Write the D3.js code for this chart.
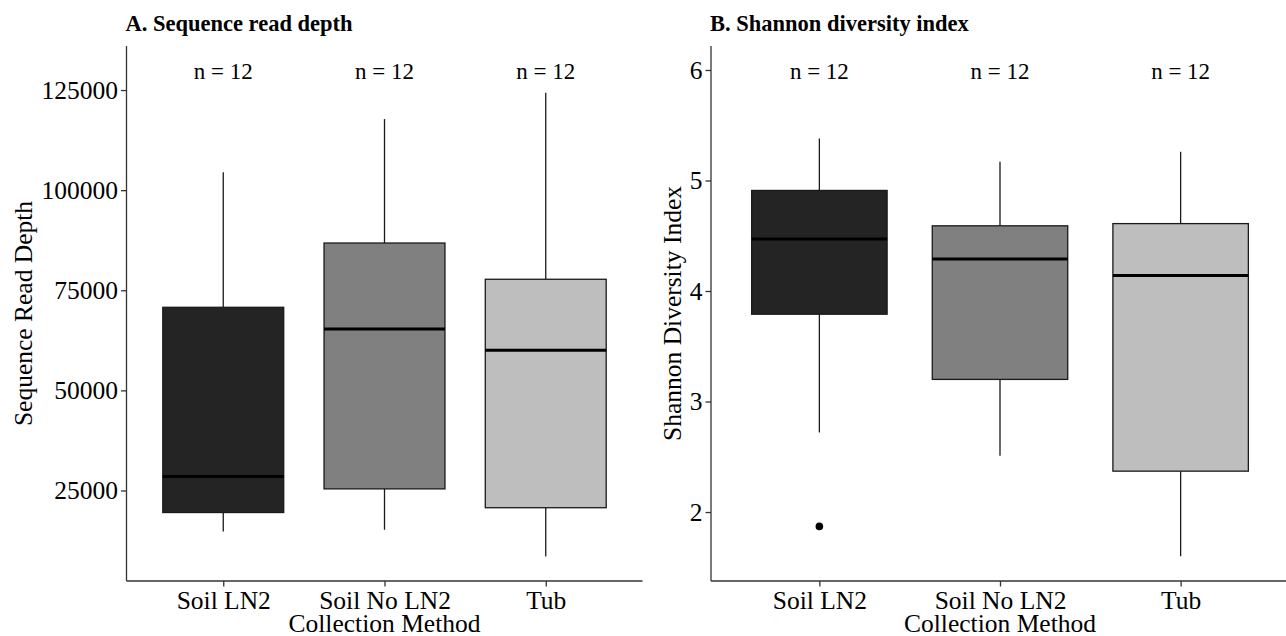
<!DOCTYPE html>
<html>
<head>
<meta charset="utf-8">
<script src="https://cdn.jsdelivr.net/npm/d3@7"></script>
<style>
  body { margin: 0; background: #fff; }
  text { font-family: "Liberation Serif", "Times New Roman", serif; fill: #000; }
</style>
</head>
<body>
<div id="chart"></div>
<script>
// categories and box statistics
const categories = ["Soil LN2", "Soil No LN2", "Tub"];
const sampleN = [12, 12, 12];
const fills = ["#242424", "#808080", "#bebebe"];

// panel A: sequence read depth
const depthLower  = [14750, 15200, 8500];
const depthQ1     = [19500, 25400, 20700];
const depthMedian = [28500, 65300, 60000];
const depthQ3     = [70750, 86800, 77750];
const depthUpper  = [104500, 117750, 124300];
const depthOutliers = [];
const depthTicks = [25000, 50000, 75000, 100000, 125000];

// panel B: shannon diversity index
const shannonLower  = [2.72, 2.51, 1.60];
const shannonQ1     = [3.79, 3.20, 2.37];
const shannonMedian = [4.47, 4.29, 4.14];
const shannonQ3     = [4.91, 4.59, 4.61];
const shannonUpper  = [5.38, 5.17, 5.26];
const shannonOutliers = [{cat: "Soil LN2", value: 1.87}];
const shannonTicks = [2, 3, 4, 5, 6];

const width = 1286, height = 636;
const svg = d3.select("#chart").append("svg")
    .attr("width", width)
    .attr("height", height);

const plotTop = 46, plotBottom = 581;

function drawPanel(opts) {
  const x = d3.scalePoint()
    .domain(categories)
    .range([opts.x0, opts.x1])
    .padding(0.6);
  const y = d3.scaleLinear()
    .domain(opts.domain)
    .range([plotBottom, plotTop]);
  const boxW = x.step() * 0.75;

  const g = svg.append("g");

  const boxes = categories.map((c, i) => ({
    cat: c, lo: opts.lower[i], q1: opts.q1[i], med: opts.median[i],
    q3: opts.q3[i], hi: opts.upper[i], fill: fills[i], n: sampleN[i]
  }));

  // whiskers
  g.selectAll(".whisk-hi").data(boxes).join("line")
    .attr("x1", d => x(d.cat)).attr("x2", d => x(d.cat))
    .attr("y1", d => y(d.q3)).attr("y2", d => y(d.hi))
    .attr("stroke", "#1a1a1a").attr("stroke-width", 1.3);
  g.selectAll(".whisk-lo").data(boxes).join("line")
    .attr("x1", d => x(d.cat)).attr("x2", d => x(d.cat))
    .attr("y1", d => y(d.q1)).attr("y2", d => y(d.lo))
    .attr("stroke", "#1a1a1a").attr("stroke-width", 1.3);

  // boxes
  g.selectAll(".box").data(boxes).join("rect")
    .attr("x", d => x(d.cat) - boxW / 2)
    .attr("width", boxW)
    .attr("y", d => y(d.q3))
    .attr("height", d => y(d.q1) - y(d.q3))
    .attr("fill", d => d.fill)
    .attr("stroke", "#1a1a1a")
    .attr("stroke-width", 1.3);

  // medians
  g.selectAll(".med").data(boxes).join("line")
    .attr("x1", d => x(d.cat) - boxW / 2).attr("x2", d => x(d.cat) + boxW / 2)
    .attr("y1", d => y(d.med)).attr("y2", d => y(d.med))
    .attr("stroke", "#000").attr("stroke-width", 3);

  // outliers
  g.selectAll(".out").data(opts.outliers).join("circle")
    .attr("cx", d => x(d.cat)).attr("cy", d => y(d.value))
    .attr("r", 3.8).attr("fill", "#000");

  // n labels
  g.selectAll(".nlab").data(boxes).join("text")
    .attr("x", d => x(d.cat)).attr("y", 79)
    .attr("text-anchor", "middle")
    .style("font-size", "23px")
    .text(d => `n = ${d.n}`);

  // axes
  const xAxis = g.append("g")
    .attr("transform", `translate(0,${plotBottom})`)
    .call(d3.axisBottom(x).tickSizeOuter(0).tickSize(5.5).tickPadding(4));
  xAxis.select(".domain").attr("d", `M${opts.x0},0H${opts.x1}`);
  const yAxis = g.append("g")
    .attr("transform", `translate(${opts.x0},0)`)
    .call(d3.axisLeft(y).tickValues(opts.ticks).tickFormat(d3.format("d"))
      .tickSizeOuter(0).tickSize(5.5).tickPadding(3));
  yAxis.select(".domain").attr("d", `M0,${plotTop}V${plotBottom}`);

  [xAxis, yAxis].forEach(a => {
    a.select(".domain").attr("stroke", "#333").attr("stroke-width", 1.3);
    a.selectAll(".tick line").attr("stroke", "#333").attr("stroke-width", 1.3);
    a.selectAll(".tick text")
      .style("font-family", "'Liberation Serif', serif")
      .style("font-size", "25.5px").attr("fill", "#1a1a1a");
  });

  // titles
  g.append("text")
    .attr("x", opts.x0 - 1).attr("y", 31)
    .style("font-size", "22.5px").style("font-weight", "bold")
    .text(opts.title);
  g.append("text")
    .attr("x", (opts.x0 + opts.x1) / 2).attr("y", 632)
    .attr("text-anchor", "middle")
    .style("font-size", "25.5px")
    .text("Collection Method");
  g.append("text")
    .attr("transform", `translate(${opts.ytitleX},${(plotTop + plotBottom) / 2}) rotate(-90)`)
    .attr("text-anchor", "middle")
    .style("font-size", "25.5px")
    .text(opts.ytitle);
}

drawPanel({
  x0: 126.5, x1: 642.5, domain: [2400, 136000],
  lower: depthLower, q1: depthQ1, median: depthMedian, q3: depthQ3, upper: depthUpper,
  outliers: depthOutliers, ticks: depthTicks,
  title: "A. Sequence read depth", ytitle: "Sequence Read Depth", ytitleX: 32
});

drawPanel({
  x0: 711, x1: 1289, domain: [1.376, 6.217],
  lower: shannonLower, q1: shannonQ1, median: shannonMedian, q3: shannonQ3, upper: shannonUpper,
  outliers: shannonOutliers, ticks: shannonTicks,
  title: "B. Shannon diversity index", ytitle: "Shannon Diversity Index", ytitleX: 681
});
</script>
</body>
</html>
